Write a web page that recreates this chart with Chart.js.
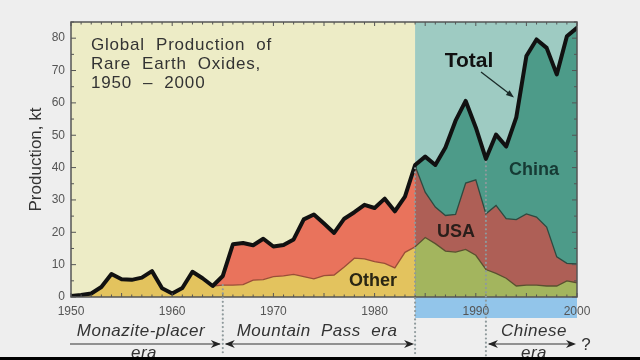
<!DOCTYPE html>
<html><head><meta charset="utf-8">
<script src="https://cdn.jsdelivr.net/npm/chart.js@4.4.0/dist/chart.umd.min.js"></script>
<style>html,body{margin:0;padding:0;background:#eeeeee;}#wrap{width:640px;height:360px;}</style>
</head><body><div id="wrap"><canvas id="c" width="640" height="360"></canvas></div>
<script>
const years = [1950,1951,1952,1953,1954,1955,1956,1957,1958,1959,
  1960,1961,1962,1963,1964,1965,1966,1967,1968,1969,
  1970,1971,1972,1973,1974,1975,1976,1977,1978,1979,
  1980,1981,1982,1983,1984,1985,1986,1987,1988,1989,
  1990,1991,1992,1993,1994,1995,1996,1997,1998,1999,2000];
const totalProd = [0.3,0.6,1.1,3.1,7.1,5.5,5.3,6.0,8.0,2.7,
  1.1,2.8,7.8,5.8,3.4,6.5,16.3,16.7,16.0,18.0,
  15.6,16.1,17.8,24.0,25.5,22.7,19.8,24.2,26.2,28.5,
  27.5,30.4,26.5,31.0,40.8,43.4,40.8,46.2,54.5,60.6,
  52.4,42.7,50.2,46.5,55.5,74.5,79.6,77.0,68.8,80.6,83.2];
const otherProd = [0.3,0.6,1.1,3.1,7.1,5.5,5.3,6.0,8.0,2.7,
  1.1,2.8,7.8,5.8,3.4,3.7,3.7,3.8,5.2,5.4,
  6.3,6.5,7.0,6.3,5.6,6.6,6.8,9.3,12.0,11.8,
  10.9,10.4,9.0,13.8,15.5,18.4,16.5,14.2,13.9,14.7,
  12.9,8.5,7.3,5.8,3.4,3.7,3.7,3.4,3.4,5.0,4.4];
const usaProd = [0,0,0,0,0,0,0,0,0,0,
  0,0,0,0,0,2.8,12.6,12.9,10.8,12.6,
  9.3,9.6,10.8,17.7,19.9,16.1,13.0,14.9,14.2,16.7,
  16.6,20.0,17.5,17.2,25.1,14.0,11.3,11.0,11.6,20.5,
  23.3,17.2,21.0,18.4,20.5,22.0,21.0,18.2,9.0,5.4,5.8];
const xTickYears = [1950,1960,1970,1980,1990,2000];
const yTickValues = [0,10,20,30,40,50,60,70,80];
const eraMountainPass = 1965;
const eraChina = 1984;
const eraChinese = 1991;

const pts = arr => years.map((yr, i) => ({x: yr, y: arr[i]}));
const usaTop = years.map((yr, i) => ({x: yr, y: otherProd[i] + usaProd[i]}));

const C = {
  bgYellow:'#edecc6', bgTeal:'#9ecbc2', blue:'#92c5ea',
  otherOld:'#e3c35e', otherNew:'#a3b55e', usaOld:'#e9735c', usaNew:'#ae5f56', china:'#4d9b89'
};
const after = (ctx) => ctx.p0.parsed.x >= eraChina;

function arrowHead(ctx, x, y, dir) {
  ctx.beginPath();
  ctx.moveTo(x, y);
  ctx.lineTo(x - dir*10, y - 4);
  ctx.lineTo(x - dir*7, y);
  ctx.lineTo(x - dir*10, y + 4);
  ctx.closePath();
  ctx.fill();
}

const bgPlugin = {
  id: 'bg',
  beforeDraw(chart) {
    const {ctx, chartArea: a, scales: {x}} = chart;
    ctx.save();
    ctx.fillStyle = '#eeeeee';
    ctx.fillRect(0, 0, chart.width, chart.height);
    const xb = x.getPixelForValue(eraChina);
    ctx.fillStyle = C.bgYellow; ctx.fillRect(a.left, a.top, xb - a.left, a.bottom - a.top);
    ctx.fillStyle = C.bgTeal; ctx.fillRect(xb, a.top, a.right - xb, a.bottom - a.top);
    ctx.fillStyle = C.blue; ctx.fillRect(xb, a.bottom, a.right - xb, 21);
    ctx.restore();
  }
};

const decoPlugin = {
  id: 'deco',
  afterDraw(chart) {
    const {ctx, chartArea: a, scales: {x, y}} = chart;
    ctx.save();
    // frame
    ctx.strokeStyle = '#555'; ctx.lineWidth = 1.5;
    ctx.strokeRect(a.left, a.top, a.right - a.left, a.bottom - a.top);
    // ticks
    ctx.lineWidth = 1;
    ctx.strokeStyle = '#555';
    for (let yr = 1950; yr <= 2000; yr++) {
      const px = x.getPixelForValue(yr);
      const len = yr % 5 === 0 ? 4 : 2.5;
      ctx.beginPath(); ctx.moveTo(px, a.top); ctx.lineTo(px, a.top + len); ctx.stroke();
      ctx.beginPath(); ctx.moveTo(px, a.bottom); ctx.lineTo(px, a.bottom - len); ctx.stroke();
    }
    for (let v = 0; v <= 85; v += 5) {
      const py = y.getPixelForValue(v);
      const len = v % 10 === 0 ? 5 : 3;
      ctx.beginPath(); ctx.moveTo(a.left, py); ctx.lineTo(a.left + len, py); ctx.stroke();
      ctx.beginPath(); ctx.moveTo(a.right, py); ctx.lineTo(a.right - len, py); ctx.stroke();
    }
    // dotted era lines
    ctx.strokeStyle = '#8f9a9c'; ctx.lineWidth = 2.2; ctx.lineCap = 'round';
    ctx.setLineDash([0, 4.2]);
    const dl = (yr, v) => {
      const px = x.getPixelForValue(yr);
      ctx.beginPath(); ctx.moveTo(px, y.getPixelForValue(v)); ctx.lineTo(px, 356); ctx.stroke();
    };
    dl(eraMountainPass, otherProd[years.indexOf(eraMountainPass)]);
    dl(eraChina, totalProd[years.indexOf(eraChina)] - 1);
    dl(eraChinese, totalProd[years.indexOf(eraChinese)] - 1);
    ctx.setLineDash([]); ctx.lineCap = 'butt';

    // title
    ctx.fillStyle = '#333';
    ctx.font = '17px "Liberation Sans", Arial, sans-serif';
    ctx.letterSpacing = '0.8px';
    ctx.textAlign = 'left'; ctx.textBaseline = 'alphabetic';
    ctx.fillText('Global  Production  of', 91, 50);
    ctx.fillText('Rare  Earth  Oxides,', 91, 69);
    ctx.fillText('1950  \u2013  2000', 91, 88);
    ctx.letterSpacing = '0px';

    // series labels
    ctx.textAlign = 'center';
    ctx.fillStyle = '#111';
    ctx.font = 'bold 21px "Liberation Sans", Arial, sans-serif';
    ctx.fillText('Total', 469, 67);
    ctx.fillStyle = '#163a34';
    ctx.font = 'bold 18px "Liberation Sans", Arial, sans-serif';
    ctx.fillText('China', 534, 175);
    ctx.fillStyle = '#2a1e1a';
    ctx.fillText('USA', 456, 237);
    ctx.fillStyle = '#2a2614';
    ctx.fillText('Other', 373, 286);

    // Total arrow
    ctx.strokeStyle = '#1a2a28'; ctx.fillStyle = '#1a2a28'; ctx.lineWidth = 1.3;
    ctx.beginPath(); ctx.moveTo(481, 72); ctx.lineTo(511, 95); ctx.stroke();
    ctx.save(); ctx.translate(514, 97.5); ctx.rotate(Math.atan2(25, 32));
    ctx.beginPath(); ctx.moveTo(0,0); ctx.lineTo(-8,-3); ctx.lineTo(-8,3); ctx.closePath(); ctx.fill();
    ctx.restore();

    // era labels
    ctx.fillStyle = '#333';
    ctx.font = 'italic 17px "Liberation Sans", Arial, sans-serif';
    ctx.letterSpacing = '0.5px';
    ctx.fillText('Monazite-placer', 141, 336);
    ctx.fillText('era', 144, 358);
    ctx.fillText('Mountain  Pass  era', 317, 336);
    ctx.fillText('Chinese', 534, 336);
    ctx.fillText('era', 534, 358);
    ctx.letterSpacing = '0px';
    ctx.font = '17px "Liberation Sans", Arial, sans-serif';
    ctx.fillText('?', x.getPixelForValue(2000) + 9, 350);

    // era arrows
    ctx.strokeStyle = '#333'; ctx.fillStyle = '#222'; ctx.lineWidth = 1.2;
    const ay = 344;
    const seg = (x1, x2) => { ctx.beginPath(); ctx.moveTo(x1, ay); ctx.lineTo(x2, ay); ctx.stroke(); };
    const xa = x.getPixelForValue(1950) - 1;
    const xm = x.getPixelForValue(eraMountainPass);
    const xc = x.getPixelForValue(eraChina);
    const xn = x.getPixelForValue(eraChinese);
    const xe = x.getPixelForValue(2000);
    seg(xa, xm - 3); arrowHead(ctx, xm - 2, ay, 1);
    seg(xm + 3, xc - 3); arrowHead(ctx, xm + 2, ay, -1); arrowHead(ctx, xc - 1, ay, 1);
    seg(xn + 3, xe - 3); arrowHead(ctx, xn + 2, ay, -1); arrowHead(ctx, xe - 1, ay, 1);

    // bottom dark strip
    ctx.fillStyle = '#000';
    ctx.fillRect(0, 357, 640, 3);
    ctx.restore();
  }
};

new Chart(document.getElementById('c'), {
  type: 'line',
  data: {
    datasets: [
      { label: 'Total', data: pts(totalProd), borderColor: '#111', borderWidth: 4, fill: false,
        pointRadius: 0, tension: 0, borderJoinStyle: 'round', borderCapStyle: 'round' },
      { label: 'Other', data: pts(otherProd), fill: 'origin', pointRadius: 0, tension: 0, borderWidth: 1.3,
        backgroundColor: C.otherOld, borderColor: '#9a4e38',
        segment: { backgroundColor: c => after(c) ? C.otherNew : C.otherOld,
                   borderColor: c => after(c) ? '#5a5030' : '#9a4e38' } },
      { label: 'USA', data: usaTop, fill: 'origin', pointRadius: 0, tension: 0, borderWidth: 1.3,
        backgroundColor: C.usaOld, borderColor: 'rgba(0,0,0,0)',
        segment: { backgroundColor: c => after(c) ? C.usaNew : C.usaOld,
                   borderColor: c => after(c) ? '#2e4a40' : 'rgba(0,0,0,0)' } },
      { label: 'China', data: pts(totalProd), fill: 'origin', pointRadius: 0, tension: 0, borderWidth: 0,
        backgroundColor: C.china, borderColor: 'rgba(0,0,0,0)' }
    ]
  },
  options: {
    responsive: false,
    animation: false,
    devicePixelRatio: 1,
    layout: { padding: { left: 22, right: 63, top: 22, bottom: 0 } },
    plugins: { legend: { display: false }, tooltip: { enabled: false } },
    scales: {
      x: {
        type: 'linear', min: 1950, max: 2000,
        afterBuildTicks: s => { s.ticks = xTickYears.map(v => ({value: v})); },
        ticks: { color: '#555', font: { size: 12, family: '"Liberation Sans", Arial, sans-serif' },
                 padding: 7, maxRotation: 0, autoSkip: false, callback: v => String(v) },
        grid: { display: false, drawTicks: false }, border: { display: false },
        afterFit: s => { s.height = 63; }
      },
      y: {
        min: 0, max: 85,
        afterBuildTicks: s => { s.ticks = yTickValues.map(v => ({value: v})); },
        ticks: { color: '#555', font: { size: 12, family: '"Liberation Sans", Arial, sans-serif' }, padding: 6 },
        title: { display: true, text: 'Production, kt', color: '#333',
                 font: { size: 17, family: '"Liberation Sans", Arial, sans-serif' } },
        grid: { display: false, drawTicks: false }, border: { display: false },
        afterFit: s => { s.width = 49; }
      }
    }
  },
  plugins: [bgPlugin, decoPlugin]
});
</script></body></html>
